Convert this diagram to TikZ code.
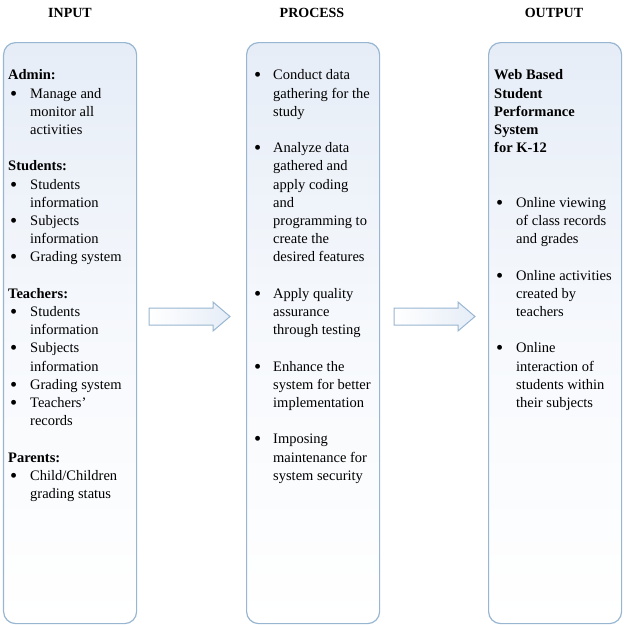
\documentclass[tikz,border=0pt]{standalone}
\usepackage{fontspec}
\setmainfont{Liberation Serif}
\usepackage{array}
\usetikzlibrary{positioning}
\definecolor{boxline}{HTML}{98B6D1}
\definecolor{boxtop}{HTML}{E6EDF7}
\tikzset{
  stagebox/.style={draw=boxline,line width=1.2pt,rounded corners=12pt,
    top color=boxtop,bottom color=white,middle color=boxtop!35!white,
    minimum width=133pt,minimum height=581pt,anchor=north west,inner sep=0pt},
  stagetitle/.style={font=\fontsize{14}{17}\selectfont\bfseries},
  stagetext/.style={anchor=north west,inner sep=0pt,align=left,
    font=\fontsize{14.5}{18.2}\selectfont},
  blockarrow/.style={draw=boxline,line width=1pt,left color=white,right color=boxtop}
}
\newcommand{\bul}{\hspace{2pt}\smash{\raisebox{-2pt}{\scalebox{1.4}{\textbullet}}}}
\newcommand{\hd}[1]{\multicolumn{2}{@{}l@{}}{\textbf{#1}}}
\begin{document}
\begin{tikzpicture}[x=1pt,y=-1pt]
\useasboundingbox (0,0) rectangle (624,625);
% boxes
\node (input) [stagebox] at (3,42) {};
\node (process) [stagebox] at (246,42) {};
\node (output) [stagebox] at (488,42) {};
% titles
\node (inputtitle) [stagetitle] at (70,13) {INPUT};
\node (processtitle) [stagetitle] at (312,13) {PROCESS};
\node (outputtitle) [stagetitle] at (554,13) {OUTPUT};
% contents
\node (inputtext) [stagetext] at ([xshift=5pt,yshift=-25pt]input.north west) {%
\begin{tabular}{@{}p{22pt}@{}l@{}}
\hd{Admin:}\\
\bul & Manage and\\
 & monitor all\\
 & activities\\
 & \\
\hd{Students:}\\
\bul & Students\\
 & information\\
\bul & Subjects\\
 & information\\
\bul & Grading system\\
 & \\
\hd{Teachers:}\\
\bul & Students\\
 & information\\
\bul & Subjects\\
 & information\\
\bul & Grading system\\
\bul & Teachers’\\
 & records\\
 & \\
\hd{Parents:}\\
\bul & Child/Children\\
 & grading status
\end{tabular}};
\node (processtext) [stagetext] at ([xshift=6pt,yshift=-25pt]process.north west) {%
\begin{tabular}{@{}p{21pt}@{}l@{}}
\bul & Conduct data\\
 & gathering for the\\
 & study\\
 & \\
\bul & Analyze data\\
 & gathered and\\
 & apply coding\\
 & and\\
 & programming to\\
 & create the\\
 & desired features\\
 & \\
\bul & Apply quality\\
 & assurance\\
 & through testing\\
 & \\
\bul & Enhance the\\
 & system for better\\
 & implementation\\
 & \\
\bul & Imposing\\
 & maintenance for\\
 & system security
\end{tabular}};
\node (outputtext) [stagetext] at ([xshift=6pt,yshift=-25pt]output.north west) {%
\begin{tabular}{@{}p{22pt}@{}l@{}}
\hd{Web Based}\\
\hd{Student}\\
\hd{Performance}\\
\hd{System}\\
\hd{for K-12}\\
 & \\
 & \\
\bul & Online viewing\\
 & of class records\\
 & and grades\\
 & \\
\bul & Online activities\\
 & created by\\
 & teachers\\
 & \\
\bul & Online\\
 & interaction of\\
 & students within\\
 & their subjects
\end{tabular}};
% arrows
\foreach \x in {149,394} {
  \draw[blockarrow] (\x,308) -- (\x+64,308) -- (\x+64,302) -- (\x+81,316.5)
    -- (\x+64,331) -- (\x+64,325) -- (\x,325) -- cycle;
}
\end{tikzpicture}
\end{document}
